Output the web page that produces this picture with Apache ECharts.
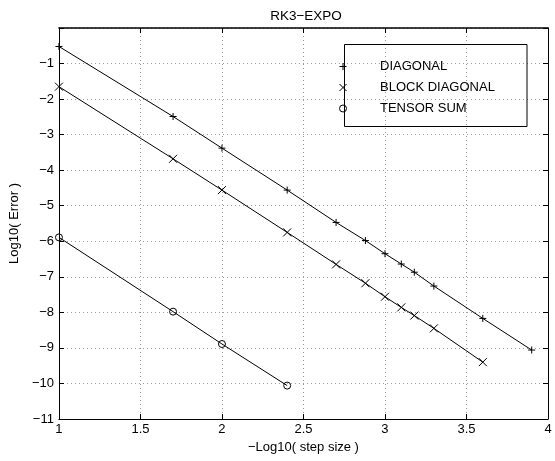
<!DOCTYPE html>
<html>
<head>
<meta charset="utf-8">
<script src="https://cdn.jsdelivr.net/npm/echarts@6/dist/echarts.min.js"></script>
<style>
  html, body { margin: 0; padding: 0; background: #fff; }
  #chart { width: 555px; height: 461px; }
</style>
</head>
<body>
<div id="chart"></div>
<script>
// -log10(step size) for each run
const stepLog = [1, 1.7, 2, 2.4, 2.7, 2.88, 3, 3.1, 3.18, 3.3, 3.6, 3.9];
// log10(error) per preconditioner
const diagonal = [-0.52, -2.49, -3.38, -4.56, -5.47, -5.98, -6.35, -6.64, -6.87, -7.26, -8.17, -9.06];
const blockDiagonal = [-1.65, -3.68, -4.56, -5.75, -6.65, -7.18, -7.56, -7.86, -8.09, -8.45, -9.40];
const tensorSum = [-5.89, -7.98, -8.89, -10.06];
const seriesNames = ['DIAGONAL', 'BLOCK DIAGONAL', 'TENSOR SUM'];
const xTicks = [1, 1.5, 2, 2.5, 3, 3.5, 4];
const yTicks = [-11, -10, -9, -8, -7, -6, -5, -4, -3, -2, -1, 0];

const FONT = 'Liberation Sans, Arial, Helvetica, sans-serif';
const MINUS = '\u2212';

const plusPath = 'path://M0,5L10,5M5,0L5,10';
const crossPath = 'path://M0,0L10,10M10,0L0,10';

function pairs(vals) {
  return vals.map((v, i) => [stepLog[i], v]);
}

const chart = echarts.init(document.getElementById('chart'), null, { renderer: 'canvas' });

const gridDots = { show: true, lineStyle: { color: '#999', width: 1, type: [1, 3] } };

const baseAxis = {
  axisLine: { show: true, onZero: false, lineStyle: { color: '#000', width: 1 } },
  axisTick: { show: true, inside: true, length: 5, lineStyle: { color: '#000', width: 1 } },
  axisLabel: { color: '#000', fontFamily: FONT, fontSize: 13 },
  splitLine: { show: false }
};

function lineSeries(name, vals, symbol, size) {
  return {
    name: name,
    type: 'line',
    data: pairs(vals),
    symbol: symbol,
    symbolSize: size,
    showAllSymbol: true,
    lineStyle: { color: '#000', width: 1 },
    itemStyle: { color: 'transparent', borderColor: '#000', borderWidth: 1 },
    emphasis: { disabled: true },
    animation: false
  };
}

chart.setOption({
  animation: false,
  backgroundColor: '#fff',
  title: {
    text: 'RK3' + MINUS + 'EXPO',
    left: 301,
    top: 4,
    textAlign: 'center',
    textStyle: { color: '#000', fontFamily: FONT, fontSize: 13.5, fontWeight: 'normal' }
  },
  grid: { left: 53, right: 7, top: 28, bottom: 42, containLabel: false },
  xAxis: [
    Object.assign({}, baseAxis, {
      type: 'value', position: 'bottom', min: 1, max: 4, interval: 0.5,
      name: MINUS + 'Log10( step size )', nameLocation: 'middle', nameGap: 19,
      nameTextStyle: { color: '#000', fontFamily: FONT, fontSize: 13 },
      axisLabel: Object.assign({}, baseAxis.axisLabel, {
        margin: 4,
        formatter: v => xTicks.indexOf(v) >= 0 ? String(v) : ''
      }),
      splitLine: gridDots
    }),
    Object.assign({}, baseAxis, {
      type: 'value', position: 'top', min: 1, max: 4, interval: 0.5,
      axisLine: { show: true, onZero: false, lineStyle: { color: '#000', width: 1.5 } },
      axisLabel: { show: false }
    })
  ],
  yAxis: [
    Object.assign({}, baseAxis, {
      type: 'value', position: 'left', min: -11, max: 0, interval: 1,
      name: 'Log10( Error )', nameLocation: 'middle', nameGap: 29,
      nameTextStyle: { color: '#000', fontFamily: FONT, fontSize: 13 },
      axisLabel: Object.assign({}, baseAxis.axisLabel, {
        margin: 5,
        formatter: v => (v === 0 || yTicks.indexOf(v) < 0) ? '' : (v < 0 ? MINUS + Math.abs(v) : String(v))
      }),
      splitLine: gridDots
    }),
    Object.assign({}, baseAxis, {
      type: 'value', position: 'right', min: -11, max: 0, interval: 1,
      axisLabel: { show: false }
    })
  ],
  legend: {
    orient: 'vertical',
    left: 339,
    top: 59,
    padding: 0,
    itemWidth: 36,
    itemHeight: 7,
    itemGap: 6,
    symbolKeepAspect: true,
    selectedMode: false,
    textStyle: { color: '#000', fontFamily: FONT, fontSize: 13, lineHeight: 15, padding: [0, 0, 0, 14] },
    itemStyle: { color: 'transparent', borderColor: '#000', borderWidth: 1 },
    data: [
      { name: seriesNames[0], icon: plusPath },
      { name: seriesNames[1], icon: crossPath },
      { name: seriesNames[2], icon: 'circle' }
    ]
  },
  graphic: [
    {
      type: 'rect',
      z: 100,
      silent: true,
      shape: { x: 344.5, y: 44.5, width: 182.5, height: 82 },
      style: { fill: 'none', stroke: '#000', lineWidth: 1 }
    }
  ],
  series: [
    lineSeries(seriesNames[0], diagonal, plusPath, 7),
    lineSeries(seriesNames[1], blockDiagonal, crossPath, 8),
    lineSeries(seriesNames[2], tensorSum, 'circle', 7)
  ]
});
</script>
</body>
</html>
